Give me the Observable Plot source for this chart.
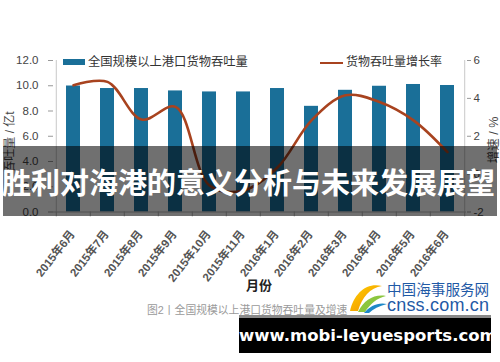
<!DOCTYPE html>
<html>
<head>
<meta charset="utf-8">
<script src="https://cdn.jsdelivr.net/npm/d3@7"></script>
<script src="https://cdn.jsdelivr.net/npm/@observablehq/plot@0.6"></script>
<style>
  html, body { margin: 0; padding: 0; background: #fff; }
  #wrap { position: relative; width: 500px; height: 362px; overflow: hidden; background: #fff;
          font-family: "Liberation Sans", "Noto Sans CJK SC", sans-serif; }
  #chart { position: absolute; left: 0; top: 0; }
  .abs { position: absolute; white-space: nowrap; }
  .rot { transform: translate(-50%, -50%) rotate(-90deg); }
</style>
</head>
<body>
<div id="wrap">
  <div id="chart"></div>

  <!-- legend -->
  <div class="abs" style="left:63px;top:59px;width:22px;height:6px;background:#1a6f98"></div>
  <div class="abs" style="left:88px;top:54px;font-size:12.3px;line-height:16px;color:#333">全国规模以上港口货物吞吐量</div>
  <div class="abs" style="left:320px;top:61.5px;width:23px;height:2.5px;background:#a8431f"></div>
  <div class="abs" style="left:346px;top:54px;font-size:12px;line-height:16px;color:#333">货物吞吐量增长率</div>

  <!-- axis titles -->
  <div class="abs rot" style="left:8px;top:142px;font-size:12px;color:#444">吞吐量 / 亿t</div>
  <div class="abs rot" style="left:492px;top:140px;font-size:12.5px;color:#444">增速 / %</div>
  <div class="abs" style="left:246px;top:275px;font-size:13px;font-weight:bold;color:#222">月份</div>

  <!-- caption -->
  <div class="abs" style="left:147px;top:303px;font-size:10.8px;line-height:14px;color:#9a9a9a">图2丨全国规模以上港口货物吞吐量及增速</div>

  <!-- logo -->
  <svg class="abs" style="left:349px;top:281px" width="38" height="34" viewBox="0 0 38 34">
    <defs>
      <linearGradient id="gy" x1="0" y1="0" x2="1" y2="1">
        <stop offset="0" stop-color="#ffd200"/><stop offset="1" stop-color="#f08a00"/>
      </linearGradient>
    </defs>
    <path d="M1,30 C5,12 18,1 33,5 C21,7 13,16 9,30 Z" fill="url(#gy)"/>
    <path d="M9,31 C15,19 25,13 37,15 C28,17 21,23 16,31 Z" fill="#8cc63f"/>
    <path d="M15,32 C21,25 29,21 38,23 C30,25 24,28 20,32 Z" fill="#1e88c8"/>
  </svg>
  <div class="abs" style="left:387px;top:281px;font-size:14.6px;line-height:18px;color:#1f5aa6">中国海事服务网</div>
  <div class="abs" style="left:387px;top:295px;font-size:18px;line-height:20px;color:#1f5aa6;letter-spacing:0.2px">cnss.com.cn</div>

  <!-- dark banner with title -->
  <div class="abs" style="left:3px;top:146px;width:494px;height:70px;background:rgba(0,0,0,0.56)"></div>
  <div class="abs" style="left:2px;top:166px;font-family:'Noto Sans CJK SC',sans-serif;font-weight:bold;font-size:29px;line-height:40px;color:#fff;margin-top:-5px">胜利对海港的意义分析与未来发展展望</div>

  <!-- watermark box -->
  <div class="abs" style="left:239px;top:315px;width:252px;height:3px;background:#8a8a8a"></div>
  <div class="abs" style="left:239px;top:318px;width:252px;height:35px;background:#000"></div>
  <div class="abs" style="left:239px;top:318px;width:252px;height:35px;line-height:35px;text-align:center;font-family:'DejaVu Sans',sans-serif;font-weight:bold;font-size:16.5px;color:#fff">www.mobi-leyuesports.com</div>
</div>

<script>
// ---- data ----
const months = ["2015年6月","2015年7月","2015年8月","2015年9月","2015年10月","2015年11月",
                "2016年1月","2016年2月","2016年3月","2016年4月","2016年5月","2016年6月"];
const throughput = [9.98, 9.78, 9.78, 9.59, 9.51, 9.51, 9.78, 8.37, 9.64, 9.96, 10.1, 10.02]; // 亿t
const growth = [4.69, 4.87, 2.88, 3.55, -0.6, -0.86, 0.35, 2.84, 4.16, 3.81, 2.84, 1.16];     // %
const leftTicks = [0, 2, 4, 6, 8, 10, 12];
const rightTicks = [-2, 0, 2, 4, 6];

// right axis (-2..6) mapped onto left scale (0..12)
const toLeft = r => (r + 2) * 1.5;
const fromLeft = v => v / 1.5 - 2;

const rows = months.map((m, i) => ({month: m, tput: throughput[i], growth: growth[i]}));

const W = 500, H = 362;
const mL = 53, mR = 34, mT = 60, mB = 150.5;
const step = (W - mL - mR) / months.length;
const fam = "'Liberation Sans','Noto Sans CJK SC',sans-serif";

const chart = Plot.plot({
  width: W, height: H,
  marginTop: mT, marginBottom: mB, marginLeft: mL, marginRight: mR,
  style: {background: "transparent", fontFamily: fam, overflow: "visible"},
  x: {domain: months, paddingInner: 0.59, paddingOuter: 0.295, axis: null, label: null},
  y: {domain: [0, 12], axis: null, label: null},
  marks: [
    Plot.barY(rows, {x: "month", y: "tput", fill: "#1a6f98"}),
    // axis lines
    Plot.ruleY([0], {stroke: "#b5b5b5"}),
    Plot.ruleX([months[0]], {dx: -step / 2, y1: 0, y2: 12, stroke: "#c8c8c8"}),
    Plot.ruleX([months[months.length - 1]], {dx: step / 2, y1: 0, y2: 12, stroke: "#c8c8c8"}),
    // category boundary ticks
    Plot.ruleX(months, {x: d => d, dx: -step / 2, y1: 0, y2: -0.4, stroke: "#b5b5b5"}),
    Plot.ruleX([months[months.length - 1]], {dx: step / 2, y1: 0, y2: -0.4, stroke: "#b5b5b5"}),
    Plot.line(rows, {x: "month", y: d => toLeft(d.growth), curve: "catmull-rom",
                     stroke: "#a8431f", strokeWidth: 2.6}),
    Plot.axisY({ticks: leftTicks, tickFormat: d => d.toFixed(1), tickSize: 5, tickPadding: 10,
                fontSize: 11.5, fill: "#444", stroke: "#999", label: null}),
    Plot.axisY({anchor: "right", ticks: rightTicks.map(toLeft), tickFormat: v => String(Math.round(fromLeft(v))),
                tickSize: 4, tickPadding: 3, fontSize: 11.5, fill: "#444", stroke: "#999", label: null}),
    Plot.axisX({tickRotate: -52, tickSize: 0, tickPadding: 20, dx: -1, fontSize: 11.5, fontWeight: "bold",
                fill: "#555", label: null})
  ]
});
document.getElementById("chart").appendChild(chart);
</script>
</body>
</html>
